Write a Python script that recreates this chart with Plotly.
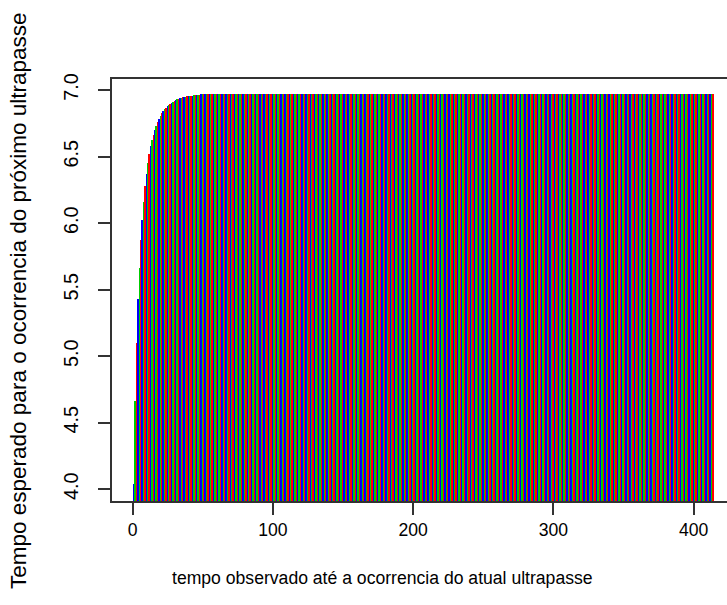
import plotly.graph_objects as go

# Data (x = 1..414)
rise_values = [4.04, 4.66, 5.10, 5.43, 5.66, 5.87, 6.02, 6.16, 6.28, 6.37,
               6.455, 6.52, 6.58, 6.625, 6.665, 6.701, 6.732, 6.760, 6.784, 6.805,
               6.824, 6.840, 6.855, 6.868, 6.879, 6.889, 6.898, 6.906, 6.913, 6.919,
               6.925, 6.930, 6.934, 6.938, 6.942, 6.945, 6.948, 6.951, 6.953, 6.955,
               6.957, 6.958, 6.959, 6.960, 6.961, 6.962, 6.963, 6.964]
plateau_value = 6.968
n_total = 414
values = rise_values + [plateau_value] * (n_total - len(rise_values))
x_values = list(range(1, n_total + 1))

palette = ["#0000FF", "#00CD00", "#FF0000"]
colors = [palette[i % 3] for i in range(n_total)]

x_ticks = [0, 100, 200, 300, 400]
y_ticks = [4.0, 4.5, 5.0, 5.5, 6.0, 6.5, 7.0]

x_title = "tempo observado até a ocorrencia do atual ultrapasse"
y_title = "Tempo esperado para o ocorrencia do próximo ultrapasse"

fam = "Liberation Sans, Arial, sans-serif"
xfont = dict(family=fam, size=17.6, color="black")
yfont = dict(family=fam, size=19.8, color="black")
ytitle_font = dict(family=fam, size=22.5, color="black")

fig = go.Figure(go.Bar(
    x=x_values, y=values, base=0, width=1.0,
    marker=dict(color=colors, line=dict(width=0)),
    hoverinfo="x+y",
))

L, T, B = 112, 79, 104
W, H = 727, 605
pw, ph = W - L, H - T - B

fig.update_layout(
    width=W, height=H,
    margin=dict(l=L, r=0, t=T, b=B, autoexpand=False),
    paper_bgcolor="white", plot_bgcolor="white",
    showlegend=False, bargap=0,
    xaxis=dict(range=[-14.76, 423.74], tickvals=x_ticks, ticktext=[str(v) for v in x_ticks],
               showgrid=False, zeroline=False, showline=True, linecolor="#333", linewidth=1.5,
               mirror=True, ticks="outside", ticklen=12, tickcolor="#333", tickwidth=1.5,
               tickfont=xfont, ticklabelstandoff=0, automargin=False),
    yaxis=dict(range=[3.912, 7.083], tickvals=y_ticks, ticktext=[f"{v:.1f}" for v in y_ticks],
               showgrid=False, zeroline=False, showline=True, linecolor="#333", linewidth=1.5,
               mirror=False, ticks="outside", ticklen=12, tickcolor="#333", tickwidth=1.5,
               tickangle=-90, tickfont=yfont, ticklabelstandoff=12, automargin=False),
    annotations=[
        dict(text=x_title, xref="paper", yref="paper", x=(382 - L) / pw, y=-(578 - (T + ph)) / ph,
             xanchor="center", yanchor="middle", showarrow=False, font=xfont),
        dict(text=y_title, xref="paper", yref="paper", x=-(L - 18) / pw, y=((T + ph) - 301) / ph,
             xanchor="center", yanchor="middle", textangle=-90, showarrow=False, font=ytitle_font),
    ],
)

fig.write_html("out.html", config={"displayModeBar": False})

# remove the default page margin and keep the thin bars crisp
with open("out.html", "r", encoding="utf-8") as f:
    html = f.read()
html = html.replace(
    "</head>",
    "<style>html,body{margin:0;padding:0;overflow:hidden}"
    ".barlayer path{shape-rendering:crispEdges !important}</style></head>", 1)
with open("out.html", "w", encoding="utf-8") as f:
    f.write(html)
